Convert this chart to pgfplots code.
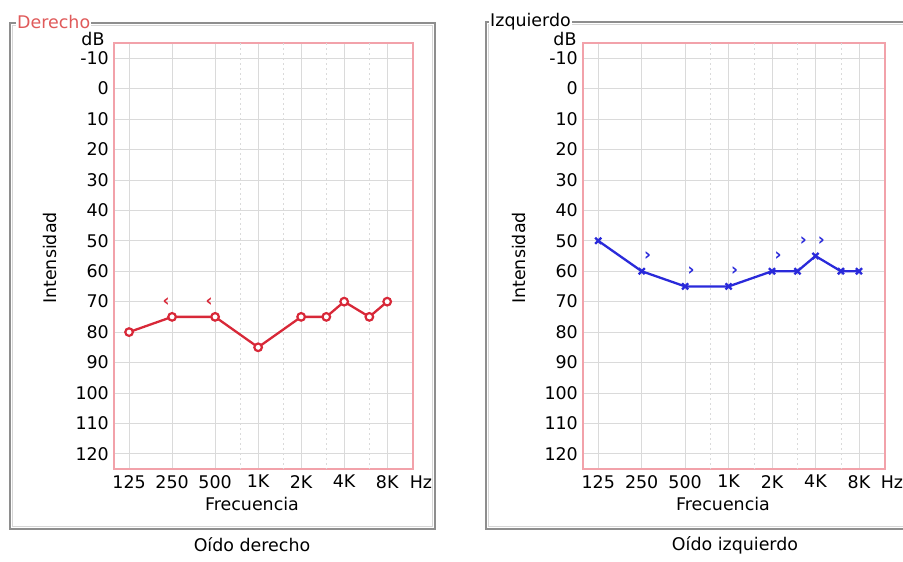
\documentclass[border=0pt]{standalone}
\usepackage{pgfplots}
\pgfplotsset{compat=1.18}
\usepackage{fontspec}
\setmainfont{DejaVu Sans}
\definecolor{boxred}{HTML}{F2A2AA}
\definecolor{gridc}{HTML}{DADADA}
\definecolor{rline}{HTML}{D82838}
\definecolor{bline}{HTML}{2A2ADA}
\definecolor{framec}{HTML}{8E8E8E}
\definecolor{framel}{HTML}{D6D6D6}
\definecolor{lblred}{HTML}{E05A5A}
\newcommand{\fs}{\fontsize{17.5}{20}\selectfont}
\pgfplotsset{audio/.style={
  scale only axis, height=426bp,
  xmin=-0.35, xmax=6.6, ymin=-15, ymax=125, y dir=reverse,
  xtick={0,1,2,3,4,5,6}, xticklabels={125,250,500,1K,2K,4K,8K},
  ytick={-10,0,10,20,30,40,50,60,70,80,90,100,110,120},
  extra x ticks={2.585,3.585,4.585,5.585}, extra x tick labels={},
  extra x tick style={grid=major, major grid style={gridc, line width=0.8bp, dash pattern=on 2bp off 3bp}},
  grid=major, major grid style={gridc, line width=0.8bp},
  major tick length=0pt,
  axis line style={boxred, line width=1.5bp},
  tick label style={font=\fs},
  yticklabel style={anchor=east, inner sep=0pt, xshift=-5bp},
  xticklabel style={anchor=north, inner sep=0pt, yshift=-6bp},
  /pgf/number format/assume math mode=true,
}}
\begin{document}
\begin{tikzpicture}[font=\fs]
\path[use as bounding box] (0,0) rectangle (903bp,-562bp);
% frames
\draw[framel, line width=1bp] (12.5bp,-25.5bp) rectangle (432.5bp,-526.5bp);
\draw[framec, line width=2bp] (10bp,-23bp) rectangle (435bp,-529bp);
\draw[framel, line width=1bp] (903bp,-24.5bp) -- (488.5bp,-24.5bp) -- (488.5bp,-526.5bp) -- (903bp,-526.5bp);
\draw[framec, line width=2bp] (903bp,-22bp) -- (486bp,-22bp) -- (486bp,-529bp) -- (903bp,-529bp);
\node[anchor=west, fill=white, inner xsep=1bp, inner ysep=0pt, text=lblred] at (16bp,-22bp) {Derecho};
\node[anchor=west, fill=white, inner xsep=1bp, inner ysep=0pt] at (489bp,-22bp) {Izquierdo};

% left axis
\begin{axis}[audio, width=299bp, at={(114bp,-43bp)}, anchor=north west]
\addplot[rline, line width=2.3bp, mark=*, mark size=3.8bp, mark options={fill=white, draw=rline, solid, line width=2.2bp}]
  coordinates {(0,80)(1,75)(2,75)(3,85)(4,75)(4.585,75)(5,70)(5.585,75)(6,70)};
\addplot[only marks, mark=text, text mark={\bfseries\fontsize{17}{17}\selectfont\textcolor{rline}{‹}}, mark options={xshift=-6bp}]
  coordinates {(1,70)(2,70)};
\end{axis}

% right axis
\begin{axis}[audio, width=302bp, at={(583bp,-43bp)}, anchor=north west]
\addplot[bline, line width=2.3bp, mark=x, mark size=4.3bp, mark options={solid, line width=2.3bp}]
  coordinates {(0,50)(1,60)(2,65)(3,65)(4,60)(4.585,60)(5,55)(5.585,60)(6,60)};
\addplot[only marks, mark=text, text mark={\bfseries\fontsize{17}{17}\selectfont\textcolor{bline}{›}}, mark options={xshift=6bp}]
  coordinates {(1,55)(2,60)(3,60)(4,55)(4.585,50)(5,50)};
\end{axis}

% labels
\node at (93bp,-39bp) {dB};
\node at (565bp,-39bp) {dB};
\node[rotate=90] at (50bp,-258bp) {Intensidad};
\node[rotate=90] at (519bp,-258bp) {Intensidad};
\node at (421bp,-482bp) {Hz};
\node at (892bp,-482bp) {Hz};
\node at (252bp,-504bp) {Frecuencia};
\node at (723bp,-504bp) {Frecuencia};
\node at (252bp,-545bp) {Oído derecho};
\node at (735bp,-545bp) {Oído izquierdo};
\end{tikzpicture}
\end{document}
